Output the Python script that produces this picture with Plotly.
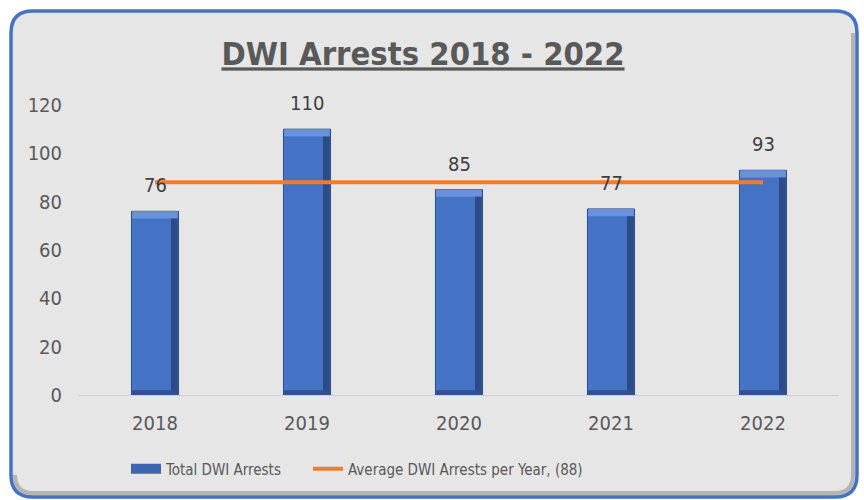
import plotly.graph_objects as go

# Yearly DWI arrest counts
years = ["2018", "2019", "2020", "2021", "2022"]
arrests = [76, 110, 85, 77, 93]
average = round(sum(arrests) / len(arrests))

y_ticks = [0, 20, 40, 60, 80, 100, 120]

# Figure geometry (pixels)
W, H = 864, 500
L, R, T, B = 79, 25, 105, 105
PW, PH = W - L - R, H - T - B

BLUE = "#4472c4"
ORANGE = "#ed7d31"
TEXT = "#595959"
FONT = "Liberation Sans Narrow, DejaVu Sans Condensed, Arial Narrow, sans-serif"

BAR_W = 0.31
BEVEL = 3.0          # height of the bevel top band, in axis units


def px_x(px):
    return (px - L) / PW


def px_y(py):
    return (H - B - py) / PH


def rounded_rect(x0, y0, x1, y1, r):
    pts = [
        f"M {px_x(x0 + r)},{px_y(y0)}",
        f"L {px_x(x1 - r)},{px_y(y0)}",
        f"Q {px_x(x1)},{px_y(y0)} {px_x(x1)},{px_y(y0 + r)}",
        f"L {px_x(x1)},{px_y(y1 - r)}",
        f"Q {px_x(x1)},{px_y(y1)} {px_x(x1 - r)},{px_y(y1)}",
        f"L {px_x(x0 + r)},{px_y(y1)}",
        f"Q {px_x(x0)},{px_y(y1)} {px_x(x0)},{px_y(y1 - r)}",
        f"L {px_x(x0)},{px_y(y0 + r)}",
        f"Q {px_x(x0)},{px_y(y0)} {px_x(x0 + r)},{px_y(y0)}",
        "Z",
    ]
    return " ".join(pts)


def corner_path(x0, y0, x1, y1, r):
    # right and bottom edges only, used for the inner shadow
    pts = [
        f"M {px_x(x1)},{px_y(y0 + r)}",
        f"L {px_x(x1)},{px_y(y1 - r)}",
        f"Q {px_x(x1)},{px_y(y1)} {px_x(x1 - r)},{px_y(y1)}",
        f"L {px_x(x0 + r)},{px_y(y1)}",
        f"Q {px_x(x0)},{px_y(y1)} {px_x(x0)},{px_y(y1 - r)}",
    ]
    return " ".join(pts)


fig = go.Figure()

# Main bars
fig.add_trace(go.Bar(
    x=years, y=arrests, width=BAR_W,
    marker=dict(color=BLUE, line=dict(color="#2f4f8a", width=1)),
    showlegend=False, hoverinfo="skip",
))
# Bevel: light top band
fig.add_trace(go.Bar(
    x=years, y=[BEVEL] * len(arrests), base=[v - BEVEL for v in arrests],
    width=BAR_W - 0.01,
    marker=dict(color="#6a92dc", line=dict(width=0)),
    showlegend=False, hoverinfo="skip",
))
# Bevel: dark right edge
fig.add_trace(go.Bar(
    x=years, y=[v - BEVEL for v in arrests], base=[0] * len(arrests),
    width=0.045, offset=BAR_W / 2 - 0.05,
    marker=dict(color="#2c4c88", line=dict(width=0)),
    showlegend=False, hoverinfo="skip",
))
# Bevel: dark bottom band
fig.add_trace(go.Bar(
    x=years, y=[2.0] * len(arrests), base=[0] * len(arrests),
    width=BAR_W - 0.01,
    marker=dict(color="#2f528f", line=dict(width=0)),
    showlegend=False, hoverinfo="skip",
))

# Average line
fig.add_trace(go.Scatter(
    x=years, y=[average] * len(years), mode="lines",
    line=dict(color=ORANGE, width=4),
    showlegend=False, hoverinfo="skip",
))

# Legend entries (no visible marks of their own)
fig.add_trace(go.Scatter(
    x=[years[0]], y=[None], mode="lines",
    line=dict(color="#3c64b0", width=10),
    name="Total DWI Arrests", hoverinfo="skip", legend="legend",
))
fig.add_trace(go.Scatter(
    x=[years[0]], y=[None], mode="lines",
    line=dict(color=ORANGE, width=4),
    name=f"Average DWI Arrests per Year, ({average})", hoverinfo="skip",
    legend="legend2",
))

# Value labels above the bars (category index positions)
for i, v in enumerate(arrests):
    fig.add_annotation(
        x=i, y=v, xref="x", yref="y", text=str(v), showarrow=False,
        yanchor="bottom", yshift=12,
        font=dict(family=FONT, size=20, color="#404040"),
    )

shapes = [
    dict(type="path", xref="paper", yref="paper",
         path=rounded_rect(11, 11, 857, 497, 22),
         fillcolor="#e6e6e6", line=dict(color=BLUE, width=3.5), layer="below"),
    dict(type="path", xref="paper", yref="paper",
         path=corner_path(15, 15, 853, 493, 18),
         line=dict(color="rgba(120,120,120,0.45)", width=4), layer="below"),
]

legend_style = dict(
    orientation="h", xanchor="left", yanchor="middle",
    bgcolor="rgba(0,0,0,0)", font=dict(size=15, color=TEXT), itemwidth=30,
)

fig.update_layout(
    width=W, height=H,
    margin=dict(l=L, r=R, t=T, b=B),
    paper_bgcolor="white",
    plot_bgcolor="rgba(0,0,0,0)",
    barmode="overlay",
    shapes=shapes,
    title=dict(
        text="<b><u>DWI Arrests 2018 - 2022</u></b>",
        x=423 / W, xref="container", xanchor="center",
        y=1 - 54 / H, yref="container", yanchor="middle",
        font=dict(family=FONT, size=32.5, color=TEXT),
    ),
    font=dict(family=FONT, color=TEXT),
    xaxis=dict(
        type="category", categoryorder="array", categoryarray=years,
        range=[-0.5, len(years) - 0.5],
        showgrid=False, zeroline=False,
        showline=True, linecolor="#d0d0d0", linewidth=1,
        ticks="", tickfont=dict(size=20, color=TEXT),
        ticklabelstandoff=10,
    ),
    yaxis=dict(
        range=[0, 120], tickvals=y_ticks, showgrid=False, zeroline=False,
        showline=False, ticks="", tickfont=dict(size=20, color=TEXT),
        ticklabelstandoff=16,
    ),
    legend=dict(x=px_x(126), y=px_y(469), **legend_style),
    legend2=dict(x=px_x(308), y=px_y(469), **legend_style),
)

fig.write_html("out.html")
